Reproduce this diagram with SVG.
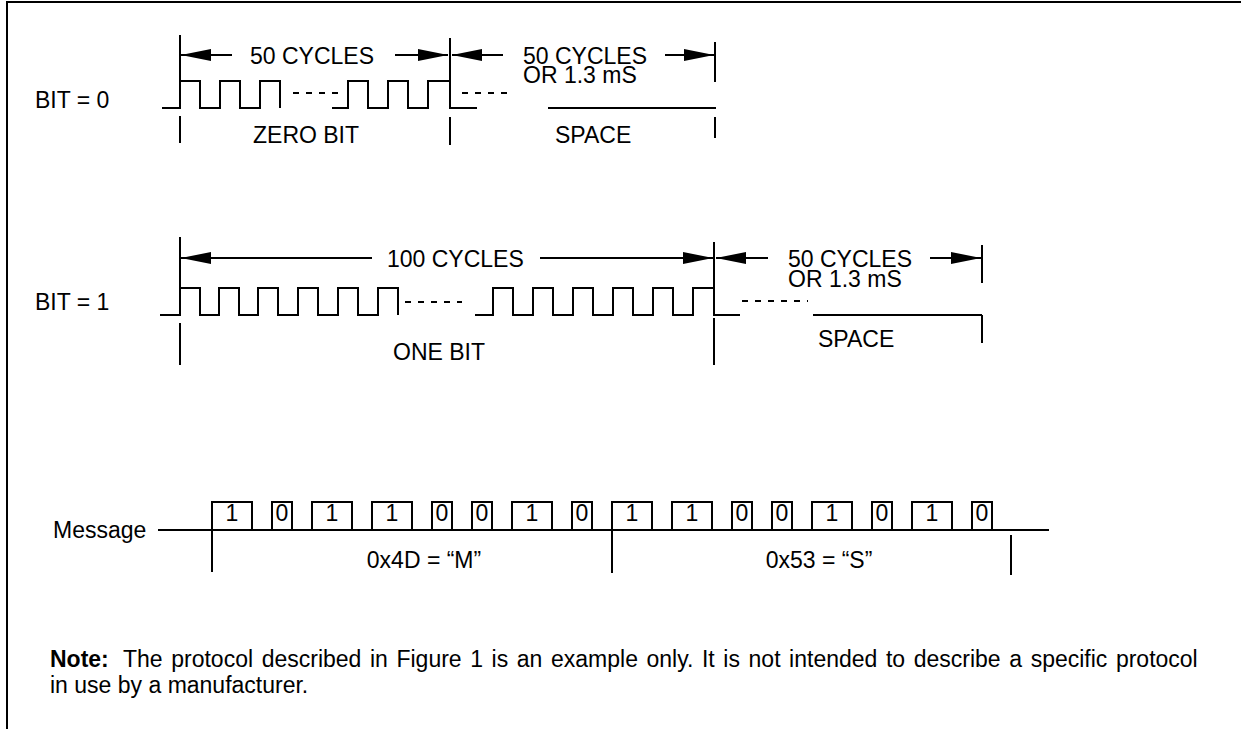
<svg xmlns="http://www.w3.org/2000/svg" width="1241" height="729" viewBox="0 0 1241 729">
<style>
text{font-family:"Liberation Sans",Arial,Helvetica,sans-serif;font-size:23px;fill:#000}
.w{fill:none;stroke:#000;stroke-width:2}
.d{fill:none;stroke:#000;stroke-width:2;stroke-dasharray:6,7}
.a{fill:none;stroke:#000;stroke-width:2;marker-end:url(#ah)}
.mid{text-anchor:middle}
</style>
<defs>
<marker id="ah" markerUnits="userSpaceOnUse" markerWidth="30" markerHeight="12" refX="30" refY="6" orient="auto" overflow="visible">
<path d="M0,0 L30,6 L0,12 z" fill="#000"/>
</marker>
</defs>
<rect width="1241" height="729" fill="#fff"/>
<path class="w" d="M7,729 V2 H1241"/>

<g id="bit0">
<text x="35" y="108">BIT = 0</text>
<path class="w" d="M162,108 H180 V81 H200 V108 H220 V81 H240 V108 H260 V81 H280 V108"/>
<path class="w" d="M332,108 H348 V81 H368 V108 H388 V81 H408 V108 H428 V81 H450 V108 H477"/>
<path class="d" d="M293,93 H345 M462,93 H512"/>
<path class="w" d="M548,108 H716"/>
<text x="253" y="143">ZERO BIT</text>
<text x="555" y="143">SPACE</text>
</g>

<g id="bit1">
<text x="35" y="310">BIT = 1</text>
<path class="w" d="M160,315 H180 V288 H200 V315 H219 V288 H239 V315 H258 V288 H278 V315 H298 V288 H318 V315 H338 V288 H358 V315 H378 V288 H398 V315"/>
<path class="w" d="M475,315 H493 V288 H513 V315 H533 V288 H553 V315 H573 V288 H593 V315 H613 V288 H633 V315 H653 V288 H673 V315 H693 V288 H714 V315 H740"/>
<path class="d" d="M405,302 H462 M742,301 H808"/>
<path class="w" d="M813,315 H982"/>
<text x="393" y="360">ONE BIT</text>
<text x="818" y="347">SPACE</text>
</g>

<g id="message">
<text x="53" y="538">Message</text>
<path class="w" d="M158,530 H1049"/>
<path class="w" d="M212,530 V502 H252 V530 M272,530 V502 H292 V530 M312,530 V502 H352 V530 M372,530 V502 H412 V530 M432,530 V502 H452 V530 M472,530 V502 H492 V530 M512,530 V502 H552 V530 M572,530 V502 H592 V530"/>
<path class="w" d="M612,530 V502 H652 V530 M672,530 V502 H712 V530 M732,530 V502 H752 V530 M772,530 V502 H792 V530 M812,530 V502 H852 V530 M872,530 V502 H892 V530 M912,530 V502 H952 V530 M972,530 V502 H992 V530"/>
<g class="mid">
<text x="232" y="521">1</text><text x="282" y="521">0</text><text x="332" y="521">1</text><text x="392" y="521">1</text>
<text x="442" y="521">0</text><text x="482" y="521">0</text><text x="532" y="521">1</text><text x="582" y="521">0</text>
<text x="632" y="521">1</text><text x="692" y="521">1</text><text x="742" y="521">0</text><text x="782" y="521">0</text>
<text x="832" y="521">1</text><text x="882" y="521">0</text><text x="932" y="521">1</text><text x="982" y="521">0</text>
</g>
<text class="mid" x="424" y="568">0x4D = “M”</text>
<text class="mid" x="819" y="568">0x53 = “S”</text>
</g>

<g id="connectors">
<path class="w" d="M180,35 V81 M180,116 V143 M450,38 V108 M450,117 V145 M715,42 V82 M715,117 V138"/>
<path class="w" d="M180,237 V288 M180,323 V365 M714,242 V288 M714,318 V365 M982,245 V283 M982,315 V343"/>
<path class="w" d="M212,530 V572 M612,530 V573 M1011,535 V575"/>
<line class="a" x1="232" y1="55" x2="181" y2="55"/>
<line class="a" x1="395" y1="55" x2="448" y2="55"/>
<line class="a" x1="503" y1="55" x2="452" y2="55"/>
<line class="a" x1="665" y1="55" x2="714" y2="55"/>
<line class="a" x1="372" y1="258" x2="181" y2="258"/>
<line class="a" x1="540" y1="258" x2="713" y2="258"/>
<line class="a" x1="768" y1="258" x2="716" y2="258"/>
<line class="a" x1="930" y1="258" x2="981" y2="258"/>
</g>

<g id="labels">
<text x="250" y="64">50 CYCLES</text>
<text x="523" y="64">50 CYCLES</text>
<text x="523" y="83">OR 1.3 mS</text>
<text x="387" y="267">100 CYCLES</text>
<text x="788" y="267">50 CYCLES</text>
<text x="788" y="287">OR 1.3 mS</text>
</g>

<g id="note">
<text x="50" y="667"><tspan font-weight="bold">Note:</tspan><tspan x="123" word-spacing="2.2">The protocol described in Figure 1 is an example only. It is not intended to describe a specific protocol</tspan></text>
<text x="50" y="693">in use by a manufacturer.</text>
</g>
</svg>
